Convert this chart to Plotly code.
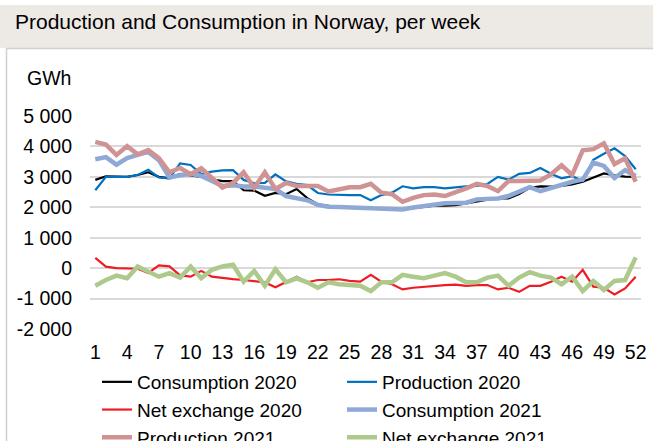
import plotly.graph_objects as go

weeks = list(range(1, 53))

consumption_2020 = [2900, 3020, 3010, 3000, 3060, 3150, 3000, 2950, 3100, 3050,
                    3000, 2920, 2860, 2860, 2560, 2550, 2380, 2470, 2430, 2600,
                    2300, 2100, 2050, 2000, 1980, 1970, 1960, 1970, 1960, 1940,
                    1970, 2020, 2050, 2050, 2070, 2130, 2200, 2250, 2290, 2290,
                    2440, 2640, 2690, 2680, 2700, 2750, 2840, 2980, 3110, 3050,
                    3010, 3000]
production_2020 = [2560, 3000, 3000, 3000, 3060, 3230, 2980, 2950, 3440, 3390,
                   3090, 3170, 3210, 3220, 2900, 2790, 2800, 3080, 2850, 2770,
                   2730, 2470, 2420, 2400, 2400, 2400, 2230, 2400, 2480, 2690,
                   2620, 2660, 2660, 2620, 2660, 2690, 2700, 2770, 3000, 2910,
                   3100, 3130, 3290, 3100, 2950, 3020, 2860, 3560, 3760, 3940,
                   3680, 3250]
net_exchange_2020 = [340, 50, 0, 0, -20, -160, 90, 60, -240, -280,
                     -90, -280, -330, -360, -390, -420, -470, -630, -445, -280,
                     -465, -390, -390, -365, -420, -445, -220, -445, -530, -700,
                     -645, -610, -580, -555, -540, -580, -555, -555, -700, -645,
                     -780, -580, -580, -445, -280, -445, -55, -610, -645, -865,
                     -665, -280]
consumption_2021 = [3580, 3650, 3400, 3620, 3720, 3820, 3550, 2980, 3050, 3100,
                    3030, 2870, 2700, 2720, 2680, 2680, 2650, 2600, 2370, 2300,
                    2230, 2080, 2020, 2010, 2000, 1990, 1970, 1960, 1950, 1930,
                    1990, 2040, 2090, 2130, 2140, 2150, 2260, 2290, 2290, 2370,
                    2530, 2660, 2530, 2640, 2750, 2840, 2910, 3470, 3360, 2960,
                    3220, 3030]
production_2021 = [4150, 4060, 3720, 4010, 3740, 3880, 3620, 3150, 3290, 3090,
                   3280, 2950, 2650, 2800, 3150, 2640, 3150, 2600, 2800, 2700,
                   2710, 2700, 2520, 2590, 2660, 2660, 2770, 2480, 2430, 2180,
                   2310, 2400, 2420, 2370, 2480, 2620, 2770, 2700, 2530, 2860,
                   2860, 2860, 2880, 3080, 3380, 3060, 3870, 3910, 4100, 3420,
                   3610, 2840]
net_exchange_2021 = [-577, -390, -245, -333, 55, -110, -280, -165, -310, 55,
                     -333, -55, 55, 110, -445, -90, -577, -40, -465, -333,
                     -465, -645, -465, -530, -555, -577, -755, -465, -465, -220,
                     -280, -333, -245, -165, -280, -465, -465, -310, -245, -577,
                     -310, -133, -245, -310, -530, -280, -755, -420, -720, -420,
                     -390, 355]

x_tickvals = list(range(1, 53, 3))
y_tickvals = [-2000, -1000, 0, 1000, 2000, 3000, 4000, 5000]
y_ticktext = ["-2 000", "-1 000", "0", "1 000", "2 000", "3 000", "4 000", "5 000"]

series = [
    ("Consumption 2020", consumption_2020, "#000000", 2.2),
    ("Production 2020", production_2020, "#0070C0", 2.2),
    ("Net exchange 2020", net_exchange_2020, "#EE1C25", 2.2),
    ("Consumption 2021", consumption_2021, "#8FA9D6", 4.5),
    ("Production 2021", production_2021, "#CF9393", 4.5),
    ("Net exchange 2021", net_exchange_2021, "#ADCA8C", 4.5),
]

FONT = "Liberation Sans, Arial, sans-serif"

fig = go.Figure()
for name, vals, color, width in series:
    fig.add_trace(go.Scatter(x=weeks, y=vals, name=name, mode="lines",
                             line=dict(color=color, width=width)))

W, H = 653, 441
L, R, T, B = 90, 12, 116, 112
pw, ph = W - L - R, H - T - B

def px(xp):
    return (xp - L) / pw

def py(yp):
    return (H - B - yp) / ph

fig.update_layout(
    width=W, height=H,
    margin=dict(l=L, r=R, t=T, b=B, autoexpand=False),
    paper_bgcolor="white", plot_bgcolor="white",
    font=dict(family=FONT, size=19, color="#000000"),
    title=dict(text="Production and Consumption in Norway, per week",
               xref="container", yref="container", x=15 / W, xanchor="left",
               y=1 - 22 / H, yanchor="middle",
               font=dict(family=FONT, size=21, color="#000000")),
    showlegend=True,
    legend=dict(orientation="h", x=px(97), xanchor="left", y=py(363), yanchor="top",
                entrywidth=200, entrywidthmode="pixels",
                font=dict(family=FONT, size=19, color="#000000"),
                bgcolor="rgba(0,0,0,0)", traceorder="normal", tracegroupgap=0),
    xaxis=dict(range=[0.5, 52.5], tickvals=x_tickvals, ticks="", showgrid=False,
               zeroline=False, showline=False, ticklabelstandoff=9,
               tickfont=dict(family=FONT, size=19.5, color="#000000")),
    yaxis=dict(range=[-2000, 5000], tickvals=y_tickvals, ticktext=y_ticktext,
               ticks="", showgrid=True, gridcolor="#D9D9D9", gridwidth=1.5,
               zeroline=False, showline=False, ticklabelstandoff=17,
               tickfont=dict(family=FONT, size=19.5, color="#000000")),
    shapes=[
        dict(type="rect", xref="paper", yref="paper", x0=px(0), x1=px(W),
             y0=py(48), y1=py(5), fillcolor="#EDE9E5", line=dict(width=0),
             layer="below"),
        dict(type="line", xref="paper", yref="paper", x0=px(6), x1=px(W),
             y0=py(48.5), y1=py(48.5), line=dict(color="#D0D0D0", width=1.5),
             layer="below"),
        dict(type="line", xref="paper", yref="paper", x0=px(6.5), x1=px(6.5),
             y0=py(48.5), y1=py(H), line=dict(color="#D0D0D0", width=1.5),
             layer="below"),
    ],
    annotations=[
        dict(text="GWh", xref="paper", yref="paper", x=px(25), y=py(78),
             xanchor="left", yanchor="middle", showarrow=False,
             font=dict(family=FONT, size=19.5, color="#000000")),
    ],
)

fig.write_html(
    "out.html",
    config={"displayModeBar": False},
    post_script="document.body.style.margin='0';document.body.style.overflow='hidden';",
)
